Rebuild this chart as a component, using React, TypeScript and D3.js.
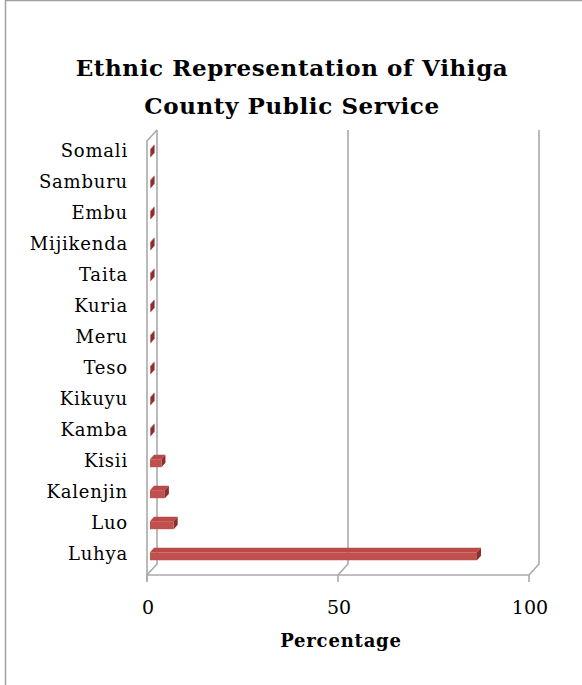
import React from "react";
import * as d3 from "d3";

const categories = ["Luhya", "Luo", "Kalenjin", "Kisii", "Kamba", "Kikuyu", "Teso", "Meru", "Kuria", "Taita", "Mijikenda", "Embu", "Samburu", "Somali"];
const values = [85.6, 6.2, 3.9, 3.0, 0.15, 0.15, 0.15, 0.15, 0.15, 0.15, 0.15, 0.15, 0.15, 0.15];
const xTicks = [0, 50, 100];
const titleLines = ["Ethnic Representation of Vihiga", "County Public Service"];
const xTitle = "Percentage";

const W = 582;
const H = 685;
const DX = 10;
const DY = -11;

export default function App() {
  const x = d3.scaleLinear().domain([0, 100]).range([147, 529]);
  const y = d3.scaleBand<string>().domain(categories).range([575, 141]);
  const bw = y.bandwidth();
  const proj = (v: number, yy: number, d: number): [number, number] => [x(v) + DX * d, yy + DY * d];
  const poly = (pts: [number, number][]) => pts.map((p) => p.join(",")).join(" ");
  const d1 = 0.3;
  const d2 = 0.7;
  const barH = 8;
  const font = "'DejaVu Serif', serif";
  const frontBottom = 575;
  const frontTop = 141;

  return (
    <svg width={W} height={H} style={{ position: "absolute", left: 0, top: 0, background: "#fff" }}>
      <rect x={5.5} y={0.5} width={W + 20} height={H + 20} fill="#fff" stroke="#a0a0a0" strokeWidth={1.5} />
      {titleLines.map((t, i) => (
        <text key={i} x={292} y={76 + i * 38} textAnchor="middle" fontFamily={font} fontWeight="bold" fontSize={23} letterSpacing={0.6} fill="#000">
          {t}
        </text>
      ))}
      {/* back wall gridlines */}
      {xTicks.map((t) => {
        const [bx, by] = proj(t, frontTop, 1);
        const [bx2, by2] = proj(t, frontBottom, 1);
        const [fx, fy] = proj(t, frontBottom, 0);
        return (
          <g key={t}>
            <polyline points={poly([[bx, by], [bx2, by2], [fx, fy]])} fill="none" stroke="#aaaaaa" strokeWidth={1.6} />
            <line x1={fx} x2={fx} y1={fy} y2={fy + 7} stroke="#aaaaaa" strokeWidth={1.6} />
          </g>
        );
      })}
      {/* left wall */}
      <polyline points={poly([proj(0, frontTop, 1), proj(0, frontTop, 0), [x(0), frontBottom + 6]])} fill="none" stroke="#aaaaaa" strokeWidth={1.6} />
      {/* floor front line */}
      <line x1={x(0)} x2={x(100)} y1={frontBottom} y2={frontBottom} stroke="#aaaaaa" strokeWidth={1.6} />
      {/* bars */}
      {categories.map((c, i) => {
        const v = values[i];
        const cy = (y(c) as number) + bw / 2;
        const top = cy - barH / 2;
        const bot = cy + barH / 2;
        return (
          <g key={c}>
            <polygon points={poly([proj(0, top, d1), proj(v, top, d1), proj(v, top, d2), proj(0, top, d2)])} fill="#b94a47" />
            <polygon points={poly([proj(v, top, d1), proj(v, top, d2), proj(v, bot, d2), proj(v, bot, d1)])} fill="#8a2f2d" />
            <polygon points={poly([proj(0, top, d1), proj(v, top, d1), proj(v, bot, d1), proj(0, bot, d1)])} fill="#c0504d" />
          </g>
        );
      })}
      {/* category labels */}
      {categories.map((c) => {
        const cy = (y(c) as number) + bw / 2 + DY * 0.5;
        return (
          <text key={c} x={128} y={cy} dy="0.35em" textAnchor="end" fontFamily={font} fontSize={18} letterSpacing={0.8} fill="#000">
            {c}
          </text>
        );
      })}
      {/* x tick labels */}
      {xTicks.map((t) => (
        <text key={t} x={x(t) + 1} y={614} textAnchor="middle" fontFamily={font} fontSize={19} fill="#000">
          {t}
        </text>
      ))}
      <text x={341} y={647} textAnchor="middle" fontFamily={font} fontWeight="bold" fontSize={18} letterSpacing={0.8} fill="#000">
        {xTitle}
      </text>
    </svg>
  );
}
